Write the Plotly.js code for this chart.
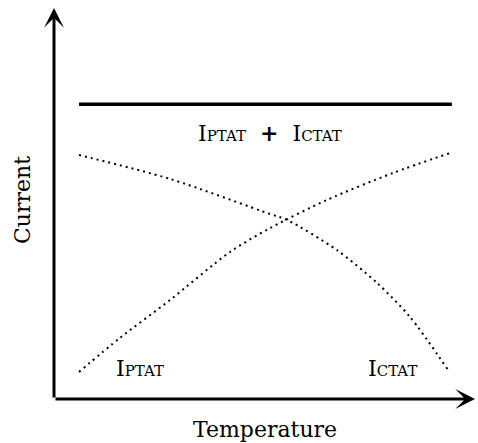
<!DOCTYPE html>
<html>
<head>
<meta charset="utf-8">
<script src="https://cdn.plot.ly/plotly-3.0.1.min.js"></script>
<style>html,body{margin:0;padding:0;background:#fff;}#chart{width:478px;height:443px;}</style>
</head>
<body>
<div id="chart"></div>
<script>
// Conceptual data (arbitrary units)
const tempPTAT = [0, 1.1, 2.45, 4.07, 5.15, 6.68, 8.46, 10];
const currPTAT = [0.69, 1.56, 2.53, 3.76, 4.37, 5.09, 5.78, 6.29];
const tempCTAT = [0, 2.45, 5.15, 5.61, 6.95, 8.03, 8.92, 9.95];
const currCTAT = [6.24, 5.63, 4.73, 4.58, 3.81, 2.97, 2.10, 0.74];
const tempSum = [0, 10.05];
const currSum = [7.54, 7.54];
const xRange = [-0.674, 10.674];
const yRange = [0, 10];
const xTitle = 'Temperature';
const yTitle = 'Current';

const FONT = 'DejaVu Serif, Liberation Serif, serif';
const small = s => '<span style="font-size:15px">' + s + '</span>';
const NB = '\u00A0';

const traces = [
  {x: tempSum, y: currSum, mode: 'lines', line: {color: '#000', width: 3.5}, hoverinfo: 'skip'},
  {x: tempPTAT, y: currPTAT, mode: 'lines', line: {color: '#000', width: 2, dash: '2px,4px', shape: 'spline', smoothing: 0.8}, hoverinfo: 'skip'},
  {x: tempCTAT, y: currCTAT, mode: 'lines', line: {color: '#000', width: 2, dash: '2px,4px', shape: 'spline', smoothing: 0.8}, hoverinfo: 'skip'}
];

const layout = {
  width: 478, height: 443,
  margin: {l: 54, r: 3, t: 8, b: 44, pad: 0},
  paper_bgcolor: '#fff', plot_bgcolor: '#fff',
  showlegend: false,
  font: {family: FONT, color: '#000', size: 22},
  xaxis: {range: xRange, showgrid: false, zeroline: false, showline: false, showticklabels: false, ticks: '', fixedrange: true},
  yaxis: {range: yRange, showgrid: false, zeroline: false, showline: false, showticklabels: false, ticks: '', fixedrange: true},
  annotations: [
    // axes with arrowheads
    {x: xRange[0], y: yRange[1], ax: xRange[0], ay: 0, xref: 'x', yref: 'y', axref: 'x', ayref: 'y',
     showarrow: true, arrowhead: 3, arrowwidth: 3, arrowsize: 1.1, arrowcolor: '#000', text: ''},
    {x: xRange[1], y: 0, ax: xRange[0], ay: 0, xref: 'x', yref: 'y', axref: 'x', ayref: 'y',
     showarrow: true, arrowhead: 3, arrowwidth: 3, arrowsize: 1.1, arrowcolor: '#000', text: ''},
    // axis titles
    {x: 0.5, y: -0.079, xref: 'paper', yref: 'paper', xanchor: 'center', yanchor: 'middle', showarrow: false,
     text: xTitle, font: {family: FONT, size: 22, color: '#000'}},
    {x: -0.0736, y: 0.509, xref: 'paper', yref: 'paper', xanchor: 'center', yanchor: 'middle', showarrow: false,
     textangle: -90, text: yTitle, font: {family: FONT, size: 22, color: '#000'}},
    // curve labels
    {x: 5.15, y: 6.80, xref: 'x', yref: 'y', showarrow: false,
     text: 'I' + small('PTAT') + NB + NB + '<b>+</b>' + NB + NB + 'I' + small('CTAT'),
     font: {family: FONT, size: 22, color: '#000'}},
    {x: 1.64, y: 0.79, xref: 'x', yref: 'y', showarrow: false,
     text: 'I' + small('PTAT'), font: {family: FONT, size: 22, color: '#000'}},
    {x: 8.44, y: 0.79, xref: 'x', yref: 'y', showarrow: false,
     text: 'I' + small('CTAT'), font: {family: FONT, size: 22, color: '#000'}}
  ]
};

Plotly.newPlot('chart', traces, layout, {staticPlot: true, displayModeBar: false});
</script>
</body>
</html>
